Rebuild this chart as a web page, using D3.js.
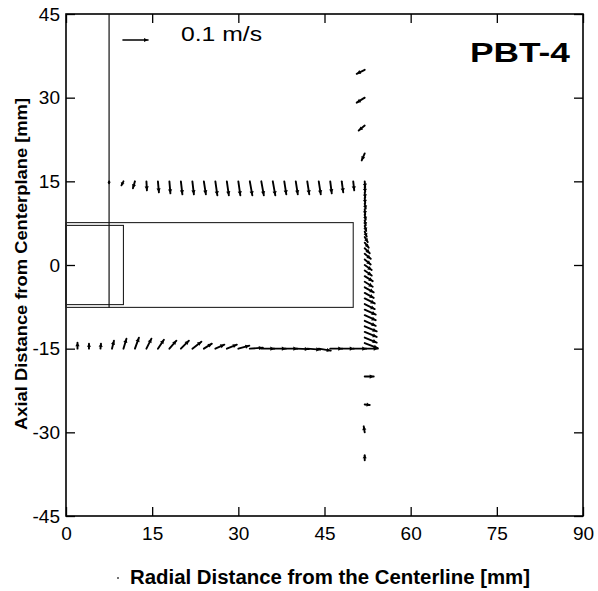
<!DOCTYPE html>
<html><head><meta charset="utf-8">
<script src="https://cdn.jsdelivr.net/npm/d3@7/dist/d3.min.js"></script>
<style>body{margin:0;background:#fff}svg{display:block}text{font-family:"Liberation Sans",Arial,Helvetica,sans-serif}</style>
</head><body>
<script>
// ---- data (positions in mm, velocities in m/s) ----
const xTicks = [0, 15, 30, 45, 60, 75, 90];
const yTicks = [-45, -30, -15, 0, 15, 30, 45];

// row above impeller, z = 15 mm
const topZ = 15;
const topR = [7.5,10,12,14,16,18,20,22,24,26,28,30,32,34,36,38,40,42,44,46,48,50];
const topU = [0,-0.008,-0.008,0.002,0.004,0.004,0.006,0.006,0.008,0.008,0.008,0.008,0.010,0.010,0.010,0.008,0.008,0.008,0.008,0.006,0.006,0.004];
const topV = [-0.008,-0.016,-0.028,-0.036,-0.044,-0.048,-0.052,-0.052,-0.052,-0.056,-0.056,-0.056,-0.056,-0.056,-0.056,-0.052,-0.052,-0.052,-0.052,-0.048,-0.044,-0.036];

// column outside blade tip, r = 52 mm
const colR = 52;
const colZ = [35,30,25,20,15,14,13,12,11,10,9,8,7,6,5,4,3,2,1,0,-1,-2,-3,-4,-5,-6,-7,-8,-9,-10,-11,-12,-13,-14,-20,-25,-30,-35];
const colU = [-0.032,-0.032,-0.024,-0.012,0.002,0.002,0.002,0.002,0.004,0.002,0.004,0.004,0.006,0.008,0.012,0.016,0.020,0.024,0.024,0.028,0.028,0.032,0.032,0.036,0.036,0.040,0.040,0.044,0.044,0.044,0.048,0.048,0.048,0.052,0.036,0.020,-0.004,0];
const colV = [-0.016,-0.020,-0.020,-0.028,-0.024,-0.020,-0.020,-0.020,-0.020,-0.020,-0.020,-0.020,-0.020,-0.020,-0.020,-0.020,-0.020,-0.020,-0.020,-0.020,-0.020,-0.020,-0.020,-0.020,-0.020,-0.020,-0.020,-0.020,-0.020,-0.020,-0.020,-0.020,-0.020,-0.020,0,-0.002,0.024,0.020];

// row below impeller, z = -15 mm
const botZ = -15;
const botR = [2,4,6,8,10,12,14,16,18,20,22,24,26,28,30,32,34,36,38,40,42,44,46,48,50,52];
const botU = [0,0,0.002,0.008,0.012,0.016,0.020,0.024,0.028,0.032,0.036,0.032,0.036,0.040,0.044,0.052,0.052,0.052,0.052,0.052,0.052,0.048,0.048,0.048,0.052,0.052];
const botV = [0.024,0.020,0.020,0.032,0.040,0.044,0.040,0.036,0.032,0.032,0.028,0.020,0.016,0.016,0.012,0.004,0,0,0,-0.002,-0.004,-0.008,0,0,0,0];

// geometry: shaft radius, impeller/hub boxes
const shaftR = 7.5;
const blade = {r0: 0, r1: 50, z0: -7.6, z1: 7.6};
const hub = {r0: 0, r1: 10, z0: -7.1, z1: 7.1};
const refSpeed = 0.1; // legend arrow, m/s

// ---- drawing ----
const W = 598, H = 591;
const svg = d3.select("body").append("svg").attr("width", W).attr("height", H);
const x = d3.scaleLinear().domain([0, 90]).range([66, 583]);
const y = d3.scaleLinear().domain([-45, 45]).range([516, 14]);
const k = 250; // px per (m/s)

const axFont = g => g.selectAll("text").attr("font-size", 19).attr("fill", "#000")
  .attr("font-family", '"Liberation Sans",Arial,sans-serif');
const fmt = d => String(d);

svg.append("g").attr("transform", `translate(0,${y(-45)})`)
  .call(d3.axisBottom(x).tickValues(xTicks).tickSizeInner(-9).tickSizeOuter(0).tickPadding(11).tickFormat(fmt))
  .call(axFont).call(g => g.select(".domain").remove());
svg.append("g").attr("transform", `translate(0,${y(45)})`)
  .call(d3.axisTop(x).tickValues(xTicks).tickSizeInner(-9).tickSizeOuter(0).tickFormat(""))
  .call(g => g.select(".domain").remove());
svg.append("g").attr("transform", `translate(${x(0)},0)`)
  .call(d3.axisLeft(y).tickValues(yTicks).tickSizeInner(-9).tickSizeOuter(0).tickPadding(6).tickFormat(fmt))
  .call(axFont).call(g => g.select(".domain").remove());
svg.append("g").attr("transform", `translate(${x(90)},0)`)
  .call(d3.axisRight(y).tickValues(yTicks).tickSizeInner(-9).tickSizeOuter(0).tickFormat(""))
  .call(g => g.select(".domain").remove());
svg.selectAll(".tick line").attr("stroke", "#000").attr("stroke-width", 1.3);

// frame
svg.append("rect").attr("x", x(0)).attr("y", y(45)).attr("width", x(90) - x(0)).attr("height", y(-45) - y(45))
  .attr("fill", "none").attr("stroke", "#000").attr("stroke-width", 1.6);

// impeller boxes & shaft
[blade, hub].forEach(b => svg.append("rect")
  .attr("x", x(b.r0)).attr("y", y(b.z1)).attr("width", x(b.r1) - x(b.r0)).attr("height", y(b.z0) - y(b.z1))
  .attr("fill", "none").attr("stroke", "#222").attr("stroke-width", 1.1));
svg.append("line").attr("x1", x(shaftR)).attr("x2", x(shaftR)).attr("y1", y(45)).attr("y2", y(blade.z0))
  .attr("stroke", "#111").attr("stroke-width", 1.2);

// vectors
const vecs = [];
topR.forEach((r, i) => vecs.push({r, z: topZ, u: topU[i], v: topV[i]}));
colZ.forEach((z, i) => vecs.push({r: colR, z, u: colU[i], v: colV[i]}));
botR.forEach((r, i) => vecs.push({r, z: botZ, u: botU[i], v: botV[i]}));

function arrow(g, x0, y0, dx, dy, w) {
  const L = Math.hypot(dx, dy);
  g.append("line").attr("x1", x0).attr("y1", y0).attr("x2", x0 + dx).attr("y2", y0 + dy)
    .attr("stroke", "#000").attr("stroke-width", w).attr("stroke-linecap", "round");
  if (L < 0.5) { g.append("circle").attr("cx", x0).attr("cy", y0).attr("r", 1.4).attr("fill", "#000"); return; }
  const ux = dx / L, uy = dy / L, hl = Math.min(4, L * 0.6), hw = 2.1;
  const bx = x0 + dx - ux * hl, by = y0 + dy - uy * hl;
  g.append("path").attr("d", `M${x0+dx},${y0+dy}L${bx - uy*hw},${by + ux*hw}L${bx + uy*hw},${by - ux*hw}Z`).attr("fill", "#000");
}
const ga = svg.append("g");
vecs.forEach(d => arrow(ga, x(d.r), y(d.z), d.u * k, -d.v * k, 1.9));

// legend arrow
arrow(svg, 123, 40, refSpeed * k, 0, 1.6);
svg.append("text").attr("x", 181).attr("y", 41).attr("font-size", 20)
  .attr("textLength", 81).attr("lengthAdjust", "spacingAndGlyphs").text("0.1 m/s");

// title
svg.append("text").attr("x", 470).attr("y", 62)
  .attr("font-size", 27).attr("font-weight", "bold")
  .attr("textLength", 100).attr("lengthAdjust", "spacingAndGlyphs").text("PBT-4");

// axis titles
svg.append("text").attr("x", 130).attr("y", 584)
  .attr("font-size", 20).attr("font-weight", "bold")
  .attr("textLength", 400).attr("lengthAdjust", "spacingAndGlyphs").text("Radial Distance from the Centerline [mm]");
svg.append("circle").attr("cx", 118).attr("cy", 578).attr("r", 1).attr("fill", "#444");
svg.append("text").attr("transform", `translate(27,${430}) rotate(-90)`)
  .attr("font-size", 17).attr("font-weight", "bold")
  .attr("textLength", 332).attr("lengthAdjust", "spacingAndGlyphs").text("Axial Distance from  Centerplane [mm]");
</script>
</body></html>
